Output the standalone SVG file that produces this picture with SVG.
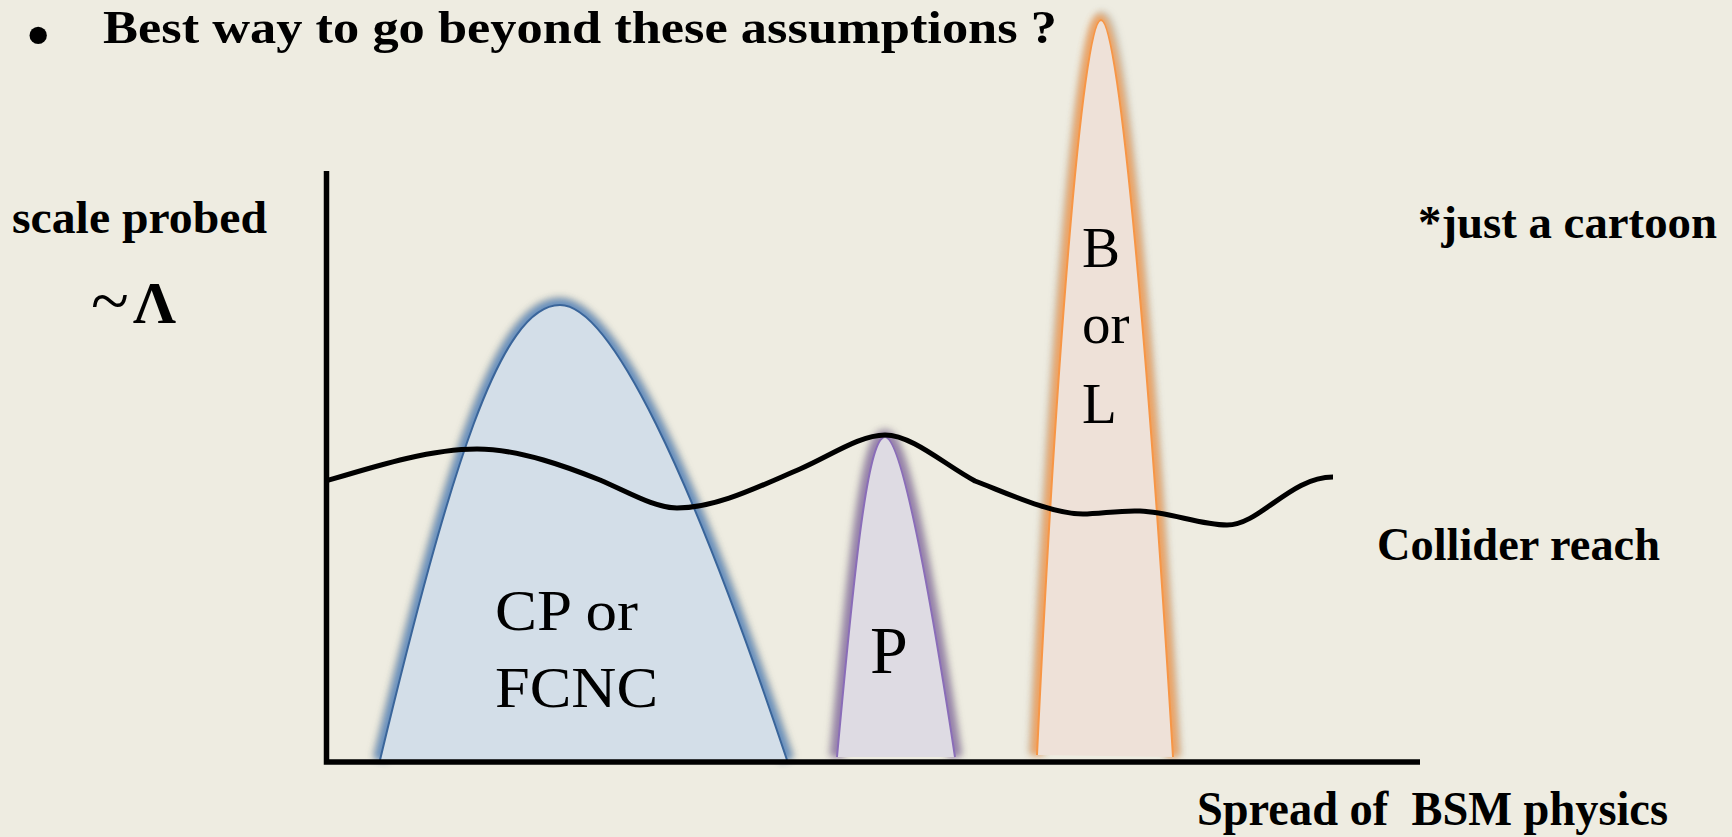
<svg xmlns="http://www.w3.org/2000/svg" width="1732" height="837" viewBox="0 0 1732 837">
<defs>
<filter id="blur" x="-20%" y="-20%" width="140%" height="140%"><feGaussianBlur stdDeviation="3.5"/></filter>
<style>
.bold{font-family:"Liberation Serif","Times New Roman",serif;font-weight:bold;fill:#000}
.reg{font-family:"Liberation Serif","Times New Roman",serif;fill:#000}
.halo{fill:none;stroke-width:12;filter:url(#blur);stroke-linejoin:round}
.shade{fill:none;stroke:#8a8a80;stroke-width:18;opacity:.35;filter:url(#blur)}
.axis{stroke:#000;stroke-width:5.5;fill:none}
.curve{stroke:#000;stroke-width:5;fill:none;stroke-linejoin:round}
</style>
</defs>
<rect x="0" y="0" width="1732" height="837" fill="#EEECE1"/>

<g id="title">
<text class="bold" x="27" y="56" font-size="64">•</text>
<text class="bold" x="103" y="43" font-size="46" textLength="954" lengthAdjust="spacingAndGlyphs">Best way to go beyond these assumptions ?</text>
</g>

<g id="node-cp">
<path class="shade" d="M380,760 C450,470 500,305 560,305 C610,305 690,470 787,760"/>
<path class="halo" stroke="#4F81BD" opacity=".85" d="M380,760 C450,470 500,305 560,305 C610,305 690,470 787,760"/>
<path d="M380,760 C450,470 500,305 560,305 C610,305 690,470 787,760 Z" fill="#D3DEE8" stroke="none"/>
<path d="M380,760 C450,470 500,305 560,305 C610,305 690,470 787,760" fill="none" stroke="#3A659A" stroke-width="2"/>
<text class="reg" x="495" y="630" font-size="56" textLength="143" lengthAdjust="spacingAndGlyphs">CP or</text>
<text class="reg" x="495" y="707" font-size="56" textLength="163" lengthAdjust="spacingAndGlyphs">FCNC</text>
</g>

<g id="node-p">
<path class="shade" d="M837,757 C855,560 868,437 885,437 C900,437 925,560 955,757"/>
<path class="halo" stroke="#8064A2" opacity=".75" d="M837,757 C855,560 868,437 885,437 C900,437 925,560 955,757"/>
<path d="M837,757 C855,560 868,437 885,437 C900,437 925,560 955,757 Z" fill="#DEDBE3" stroke="none"/>
<path d="M837,757 C855,560 868,437 885,437 C900,437 925,560 955,757" fill="none" stroke="#8A6DB8" stroke-width="2"/>
<text class="reg" x="870" y="673" font-size="68">P</text>
</g>

<g id="node-bl">
<path class="shade" d="M1037,755 C1055,380 1082,20 1101,20 C1120,20 1150,380 1173,757"/>
<path class="halo" stroke="#F79646" opacity=".8" d="M1037,755 C1055,380 1082,20 1101,20 C1120,20 1150,380 1173,757"/>
<path d="M1037,755 C1055,380 1082,20 1101,20 C1120,20 1150,380 1173,757 Z" fill="#EEE1D8" stroke="none"/>
<path d="M1037,755 C1055,380 1082,20 1101,20 C1120,20 1150,380 1173,757" fill="none" stroke="#F79646" stroke-width="2"/>
<text class="reg" x="1082" y="267" font-size="57">B</text>
<text class="reg" x="1082" y="343" font-size="57">or</text>
<text class="reg" x="1082" y="423" font-size="57">L</text>
</g>

<g id="connectors">
<path class="axis" d="M326.5,171 L326.5,762 L1420,762"/>
<path class="curve" d="M326,481 C376,466 430,449 477,449 C520,449 570,468 600,480 C630,493 655,508 677,508 C717,508 760,486 800,469 C830,456 860,435 885,435 C912,435 945,465 975,481 C1000,490 1050,514 1083,514 C1100,514 1120,510 1140,511 C1170,512 1200,525 1227,525 C1260,525 1290,477 1333,477"/>
</g>

<g id="labels">
<text class="bold" x="12" y="233" font-size="47" textLength="255" lengthAdjust="spacingAndGlyphs">scale probed</text>
<text class="reg" x="91" y="324" font-size="70">~</text>
<text class="bold" x="133" y="323" font-size="60">Λ</text>
<text class="bold" x="1418" y="238" font-size="47" textLength="299" lengthAdjust="spacingAndGlyphs">*just a cartoon</text>
<text class="bold" x="1377" y="560" font-size="47" textLength="283" lengthAdjust="spacingAndGlyphs">Collider reach</text>
<text class="bold" x="1197" y="825" font-size="49" textLength="471" lengthAdjust="spacingAndGlyphs">Spread of&#160; BSM physics</text>
</g>
</svg>
